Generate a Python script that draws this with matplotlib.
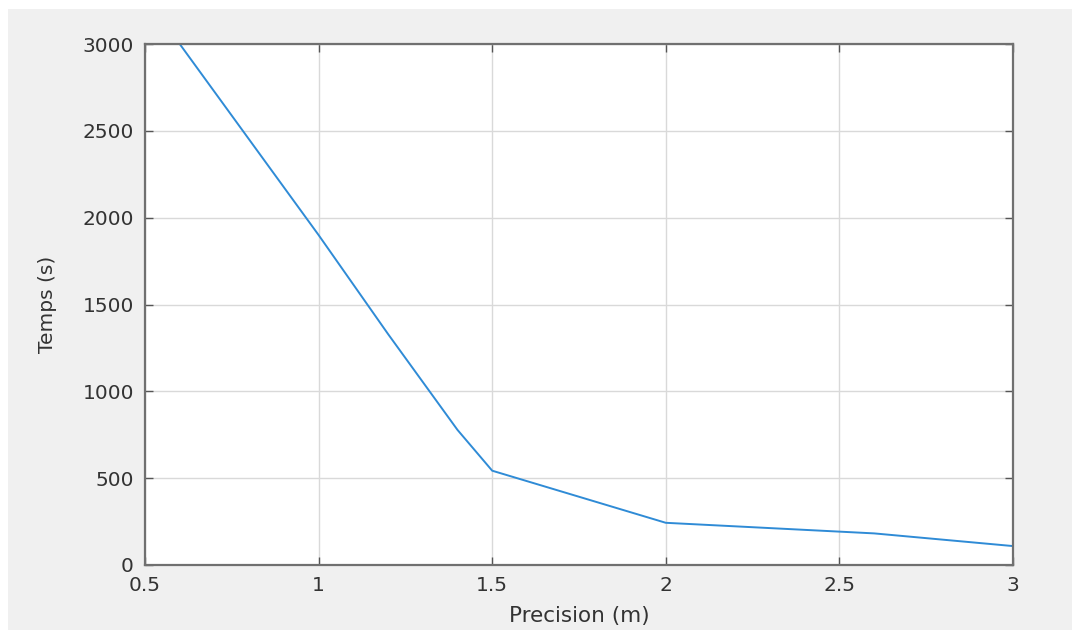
import matplotlib
matplotlib.use("Agg")
import matplotlib.pyplot as plt
from matplotlib.patches import Rectangle

# precision (m) vs computation time (s)
precision = [0.6, 0.8, 1.0, 1.2, 1.4, 1.5, 2.0, 2.6, 3.0]
temps = [3000, 2450, 1900, 1330, 778, 543, 243, 182, 109]

xticks = [0.5, 1, 1.5, 2, 2.5, 3]
yticks = [0, 500, 1000, 1500, 2000, 2500, 3000]

plt.rcParams['font.family'] = ['DejaVu Sans']

fig = plt.figure(figsize=(10.72, 6.3), dpi=100, facecolor='white')
# matlab-like grey panel
fig.patches.append(Rectangle((8 / 1072, 0), 1, 1 - 9 / 630, transform=fig.transFigure,
                             facecolor='#f0f0f0', edgecolor='none', zorder=-10))

ax = fig.add_axes([145 / 1072, 1 - 565 / 630, 868 / 1072, 521 / 630])
ax.set_facecolor('white')
ax.plot(precision, temps, color='#2f8bd6', linewidth=1.4)

ax.set_xlim(0.5, 3)
ax.set_ylim(0, 3000)
ax.set_xticks(xticks)
ax.set_xticklabels([f"{t:g}" for t in xticks])
ax.set_yticks(yticks)

ax.grid(True, color='#d9d9d9', linewidth=1.0)
ax.set_axisbelow(True)
for s in ax.spines.values():
    s.set_color('#707070')
    s.set_linewidth(1.6)
ax.tick_params(direction='in', length=5.5, width=1.0, color='#555555',
               top=True, right=True, labelsize=14.5, labelcolor='#333333', pad=8)

ax.set_xlabel('Precision (m)', fontsize=15.5, color='#333333', labelpad=8)
ax.set_ylabel('Temps (s)', fontsize=14.5, color='#333333', labelpad=18)

fig.savefig('out.png', dpi=100, facecolor=fig.get_facecolor())
